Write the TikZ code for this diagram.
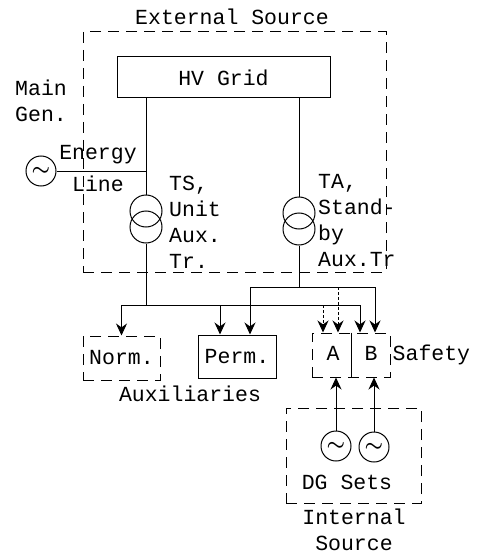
\documentclass[tikz,border=0pt]{standalone}
\usepackage{fontspec}
\setmainfont{Liberation Mono}
\usetikzlibrary{arrows.meta, positioning}

\begin{document}
\begin{tikzpicture}[
        x=1pt, y=-1pt,
        font=\fontsize{21.5}{26}\selectfont,
        box/.style={rectangle, draw, line width=1pt, inner sep=0pt},
        dashbox/.style={box, dash pattern=on 11pt off 7pt},
        gen/.style={circle, draw, line width=1pt, inner sep=0pt, minimum size=30pt, font=\fontsize{22}{22}\selectfont\boldmath},
        coil/.style={circle, draw, line width=1pt, inner sep=0pt, minimum size=32pt},
        wire/.style={line width=1pt},
        arrow/.style={-{Stealth[length=12pt, width=11pt]}, line width=1pt},
        label/.style={align=left, anchor=west, inner sep=0pt}
    ]
        \useasboundingbox (0,0) rectangle (478,556);

        % Boxes
        \node (external) [dashbox, minimum width=303pt, minimum height=240pt] at (234.5,152) {};
        \node (grid) [box, minimum width=213pt, minimum height=41pt] at (223.5,77.5) {HV Grid};
        \node (norm) [dashbox, minimum width=77pt, minimum height=44pt] at (121.5,358) {Norm.};
        \node (perm) [box, minimum width=78pt, minimum height=43pt] at (237,356.5) {Perm.};
        \node (safety) [dashbox, minimum width=78pt, minimum height=44pt] at (351,355) {};
        \node (sectA) at (333,353) {A};
        \node (sectB) at (371,353) {B};
        \node (dgbox) [dashbox, minimum width=135pt, minimum height=95pt] at (353.5,455.5) {};

        % Machines
        \node (maingen) [gen] at (41,171) {$\sim$};
        \node (dgA) [gen] at (336,446) {$\sim$};
        \node (dgB) [gen] at (374,447) {$\sim$};
        \node (tsup) [coil] at (146,211) {};
        \node (tslow) [coil] at (146,227) {};
        \node (taup) [coil] at (299,213) {};
        \node (talow) [coil] at (299,229) {};

        % Bus points
        \coordinate (busN) at (146,305);
        \coordinate (tapPermN) at (220,305);
        \coordinate (tapAN) at (323,305);
        \coordinate (busS) at (299,287);
        \coordinate (busSleft) at (250,287);
        \coordinate (busSend) at (375,287);
        \coordinate (tapAS) at (338,287);

        % Connections
        \draw [wire] (grid.south -| tsup) -- (tsup.north);
        \draw [wire] (grid.south -| taup) -- (taup.north);
        \draw [wire] (maingen.east) -- (maingen.east -| tsup);
        \draw [wire] (tslow.south) -- (busN);
        \draw [wire] (talow.south) -- (busS);
        \draw [wire] (safety.north) -- (safety.south);

        % Lower bus
        \draw [arrow] (busN) -| (norm.north);
        \draw [arrow] (busN) -| ([xshift=9pt]safety.north);
        \draw [arrow] (tapPermN) -- ([xshift=-17pt]perm.north);
        \draw [arrow, densely dashed] (tapAN) -- ([xshift=-28pt]safety.north);

        % Upper bus
        \draw [arrow] (busSleft) -- ([xshift=13pt]perm.north);
        \draw [wire] (busSleft) -- (busSend);
        \draw [arrow, densely dashed] (tapAS) -- ([xshift=-13pt]safety.north);
        \draw [arrow] (busSend) -- ([xshift=24pt]safety.north);

        % Diesel sets
        \draw [arrow] (dgA.north) -- (dgA.north |- safety.south);
        \draw [arrow] (dgB.north) -- (dgB.north |- safety.south);

        % Labels
        \node (extlabel) at (232,17) {External Source};
        \node (mainlabel) [label] at (15,101) {Main\\Gen.};
        \node (energylabel) at (98,155) {Energy};
        \node (linelabel) at (98,184) {Line};
        \node (tslabel) [label] at (169,222) {TS,\\Unit\\Aux.\\Tr.};
        \node (talabel) [label] at (318,221) {TA,\\Stand-\\by\\Aux.Tr};
        \node (auxlabel) at (190,394) {Auxiliaries};
        \node (safelabel) [label, right=2pt of safety] {Safety};
        \node (dglabel) at (347,482) {DG Sets};
        \node (intlabel) [align=center, inner sep=0pt] at (354,530) {Internal\\Source};
    \end{tikzpicture}
\end{document}
